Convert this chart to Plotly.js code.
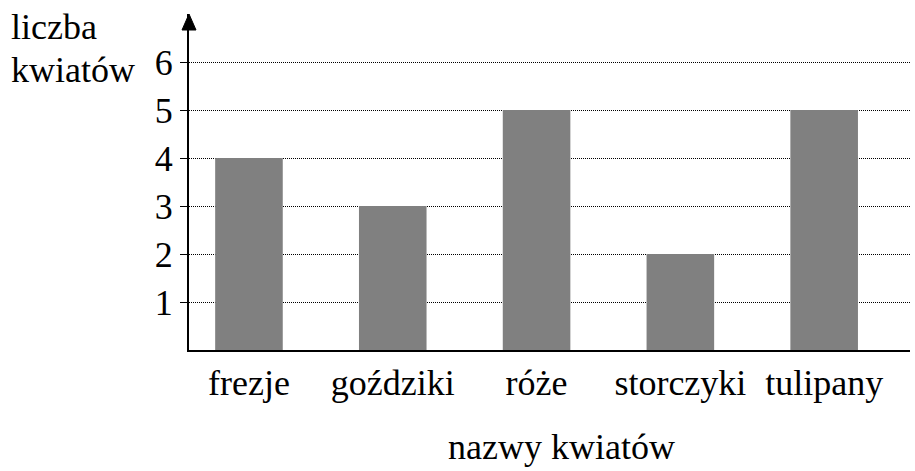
<!DOCTYPE html>
<html><head><meta charset="utf-8">
<script src="https://cdn.plot.ly/plotly-3.0.1.min.js"></script>
<style>html,body{margin:0;padding:0;background:#fff}</style>
</head><body>
<div id="chart" style="width:915px;height:471px"></div>
<script>
const categories = ["frezje", "goździki", "róże", "storczyki", "tulipany"];
const values = [4, 3, 5, 2, 5];
const yTicks = [1, 2, 3, 4, 5, 6];
const yLabelLines = ["liczba", "kwiatów"];
const xLabel = "nazwy kwiatów";

const FAM = "Liberation Serif";
function f(size) { return {family: FAM, size: size, color: "#000"}; }

const annotations = yLabelLines.map((t, i) => ({
  text: t,
  xref: "paper", yref: "paper",
  x: -0.25, y: [0.961, 0.833][i],
  xanchor: "left", yanchor: "middle",
  align: "left", showarrow: false,
  font: f(36)
}));
annotations.push({
  text: xLabel,
  xref: "paper", yref: "paper",
  x: 0.516, y: -0.2887,
  xanchor: "center", yanchor: "middle",
  showarrow: false,
  font: f(36)
});

Plotly.newPlot("chart", [{
  type: "bar",
  x: categories,
  y: values,
  width: 0.47,
  marker: {color: "#808080", line: {width: 0}},
  hoverinfo: "none"
}], {
  width: 915, height: 471,
  margin: {l: 189, r: 5, t: 14, b: 121},
  paper_bgcolor: "#fff", plot_bgcolor: "#fff",
  showlegend: false,
  font: f(36),
  xaxis: {
    type: "category",
    range: [-0.417, 4.597],
    showline: true, linecolor: "#000", linewidth: 2,
    ticks: "", showgrid: false, zeroline: false,
    tickfont: f(36),
    fixedrange: true
  },
  yaxis: {
    range: [0, 7],
    tickvals: yTicks,
    ticktext: yTicks.map(String),
    ticks: "outside", ticklen: 7, tickcolor: "#000", tickwidth: 1,
    showline: true, linecolor: "#000", linewidth: 2,
    showgrid: true, gridcolor: "#000", gridwidth: 1, griddash: "1px,1px",
    zeroline: false,
    tickfont: f(36),
    fixedrange: true
  },
  shapes: [{
    type: "path",
    xref: "paper", yref: "paper",
    xsizemode: "pixel", ysizemode: "pixel",
    xanchor: 0, yanchor: 1,
    path: "M -7 -16 L 0 0 L 7 -16 Z",
    fillcolor: "#000", line: {color: "#000", width: 1},
    layer: "above"
  }],
  annotations: annotations
}, {staticPlot: true});
</script>
</body></html>
